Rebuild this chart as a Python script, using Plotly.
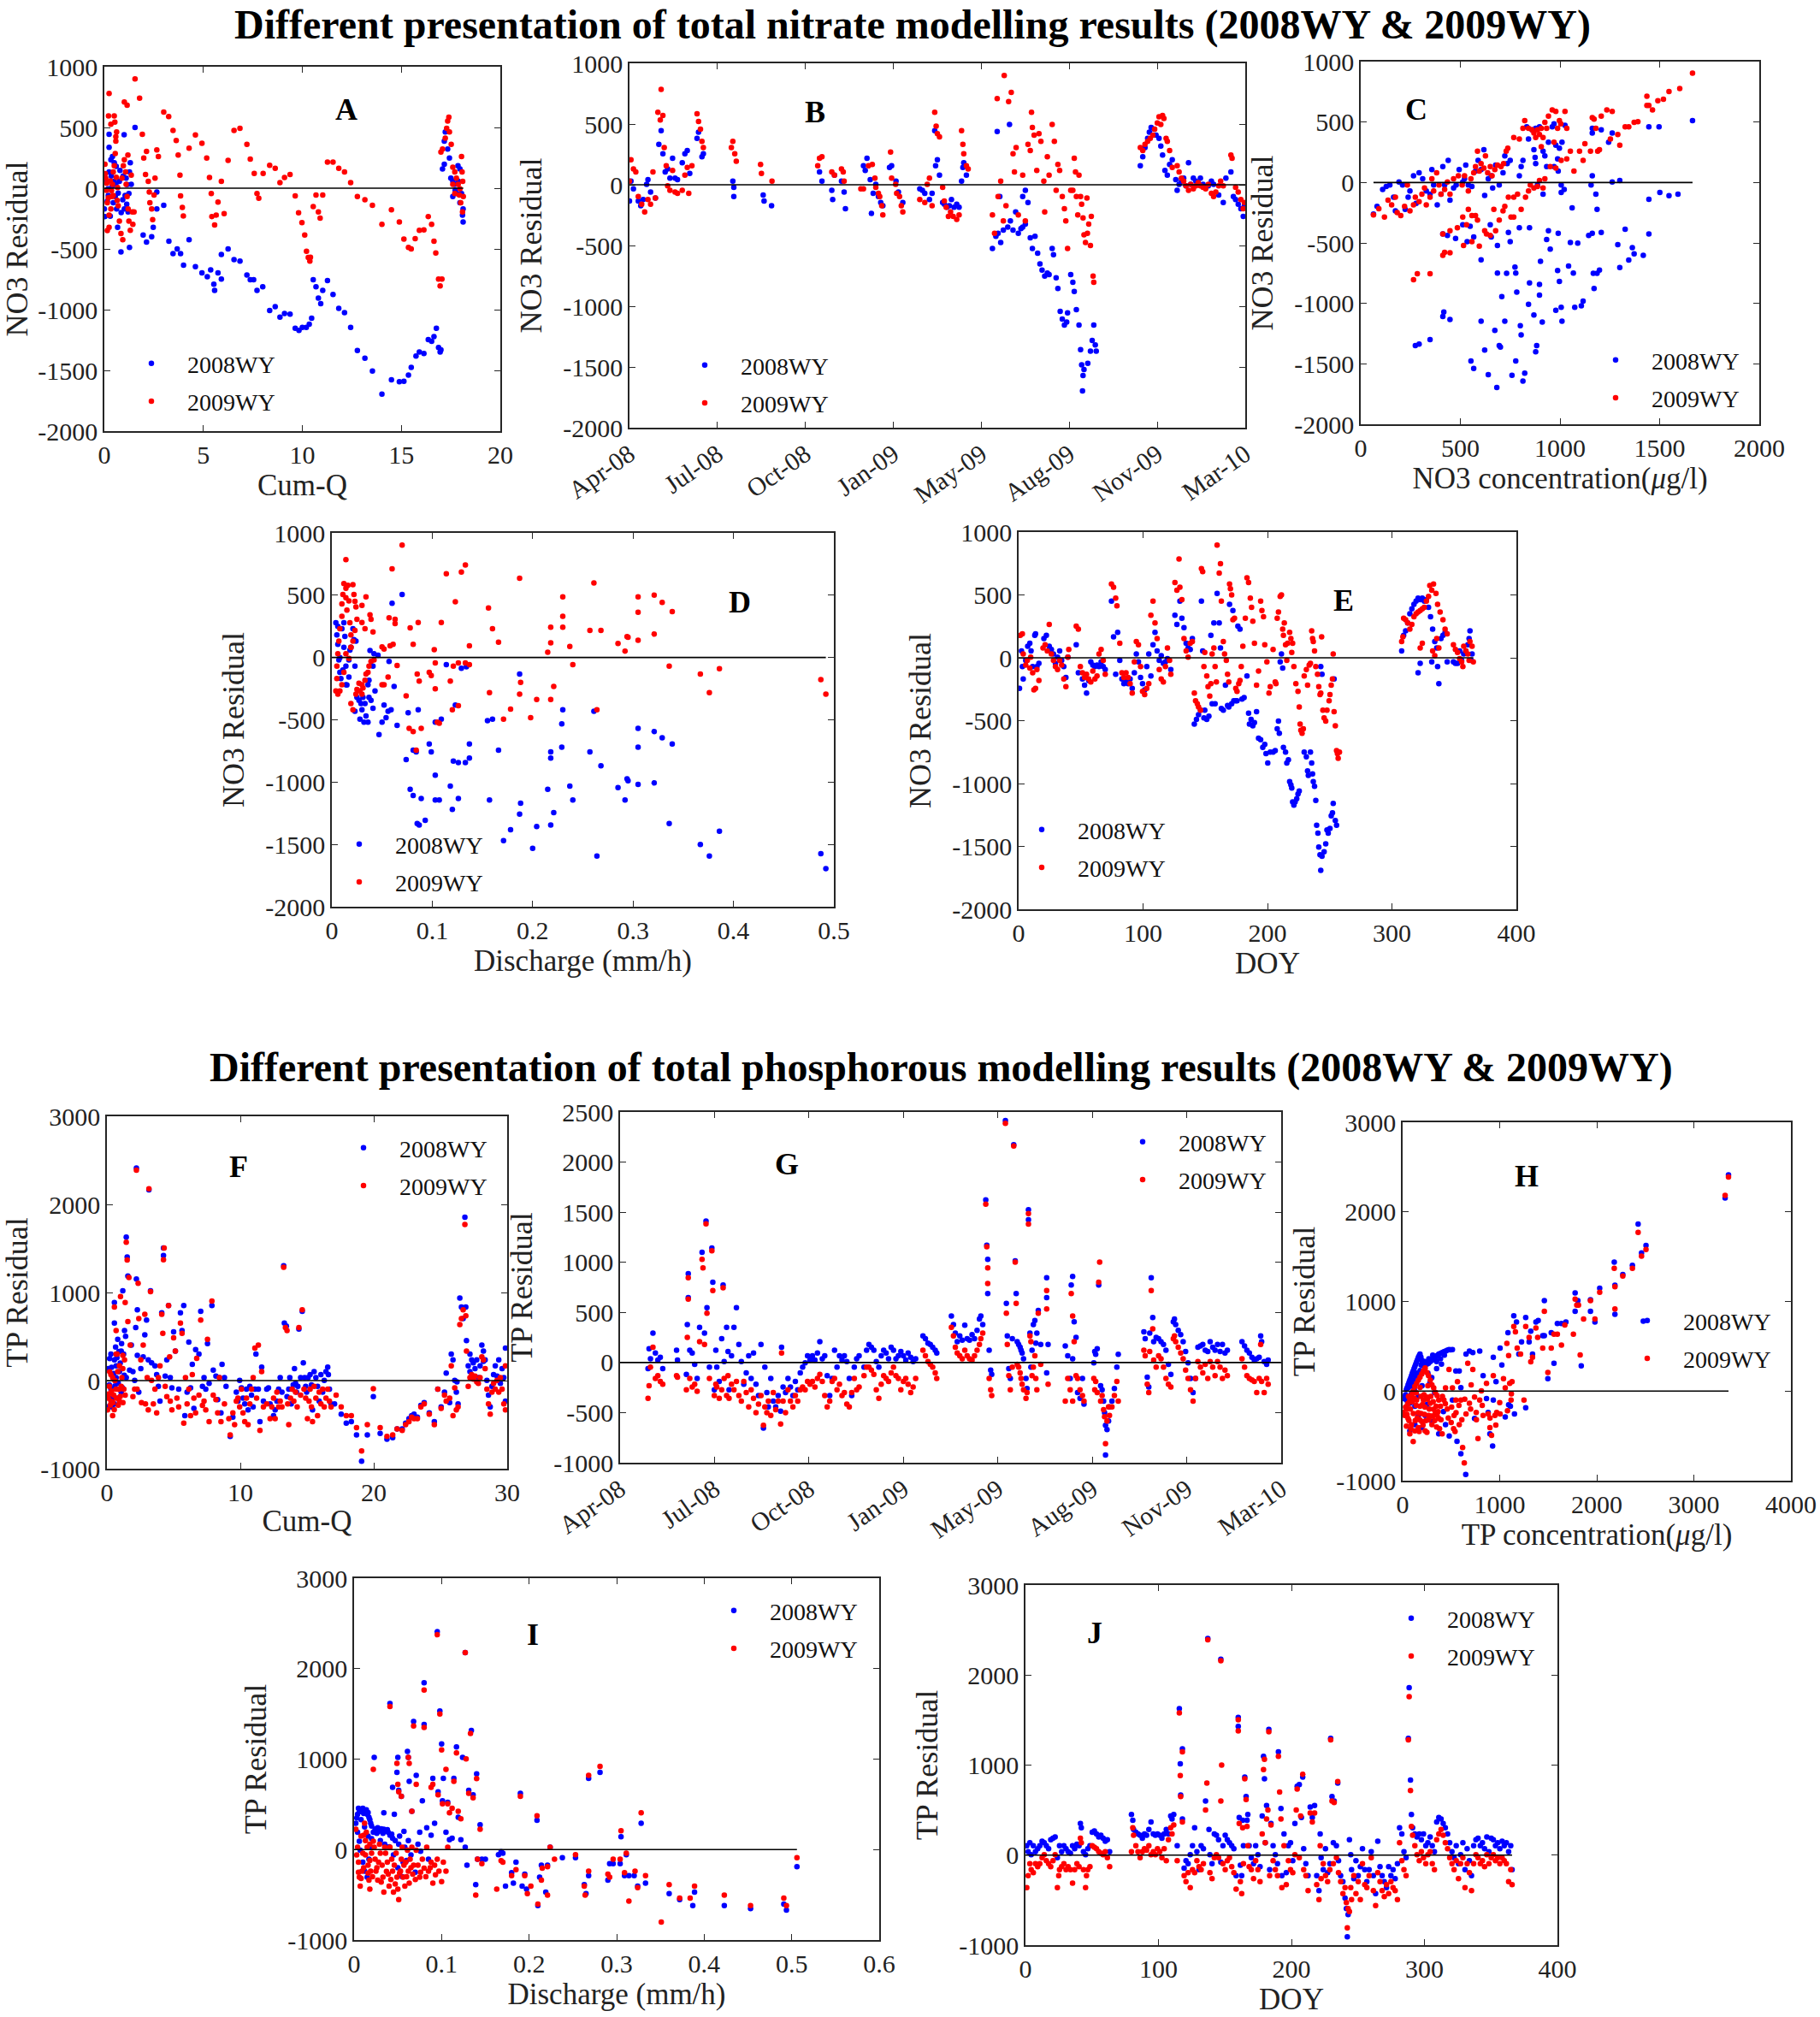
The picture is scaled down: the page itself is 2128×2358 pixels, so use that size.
import plotly.graph_objects as go
import pandas as pd

FONT = "Liberation Serif"
BLUE = "#0000FF"
RED = "#FF0000"
AXC = "#262626"

# ---------------- Tick labels ----------------
NO3_Y_TICKS = [-2000, -1500, -1000, -500, 0, 500, 1000]
TP_Y_TICKS = [-1000, 0, 1000, 2000, 3000]
TP_G_Y_TICKS = [-1000, -500, 0, 500, 1000, 1500, 2000, 2500]
CUMQ_A_TICKS = [0, 5, 10, 15, 20]
CUMQ_F_TICKS = [0, 10, 20, 30]
CONC_C_TICKS = [0, 500, 1000, 1500, 2000]
CONC_H_TICKS = [0, 1000, 2000, 3000, 4000]
Q_D_TICKS = [0, 0.1, 0.2, 0.3, 0.4, 0.5]
Q_I_TICKS = [0, 0.1, 0.2, 0.3, 0.4, 0.5, 0.6]
DOY_TICKS = [0, 100, 200, 300, 400]
DATE_TICKS = ["2008-04-02", "2008-07-11", "2008-10-19", "2009-01-27",
              "2009-05-07", "2009-08-15", "2009-11-23", "2010-03-03"]
DATE_LABELS = ["Apr-08", "Jul-08", "Oct-08", "Jan-09", "May-09", "Aug-09", "Nov-09", "Mar-10"]
DATE_START = "2008-04-02"   # day 0 of the B/G day offsets

# ---------------- Panel A: NO3 residual vs Cum-Q ----------------
A_2008 = [(0,-170),(0.03,-234),(0.15,-107),(0.24,133),(0.33,235),(0.41,260),(0.5,210),(0.5,57),(0.55,-69),(0.62,-170),
 (0.76,57),(0.79,146),(0.93,-95),(1.01,-170),(1.13,-132),(1.24,-44),(1.27,133),(1.31,210),(0.24,336),(0.19,-6),(0.58,32),
 (0.67,-322),(1.1,83),(1.2,-196),(1.36,32),(0.24,443),(1.0,440),(1.55,500),(0.1,50),(0.2,-60),(0.35,100),(0.45,-120),
 (0.6,180),(0.7,-40),(0.85,-200),(0.95,100),(1.05,-60),(1.15,30),(0.3,-230),(0.4,20),
 (0.84,-525),(1.27,-487),(1.96,-386),(2.13,-444),(2.39,-400),(2.47,-322),(2.65,-170),(2.65,-31),(3.0,-140),(3.26,-436),
 (3.47,-538),(3.68,-500),(3.85,-538),(4.0,-634),(4.28,-424),(4.6,-647),(4.93,-697),(5.2,-728),(5.37,-672),(5.53,-791),
 (5.57,-842),(5.74,-697),(5.91,-748),(5.91,-545),(6.25,-500),(6.55,-588),(6.85,-601),(7.2,-715),(7.37,-753),(7.54,-753),
 (7.71,-842),(8.0,-811),(8.35,-1007),(8.63,-976),(8.87,-1062),(9.1,-1032),(9.38,-1037),(9.64,-1154),(9.83,-1171),
 (10.0,-1146),(10.2,-1146),(10.35,-1120),(10.47,-1070),(10.55,-753),(10.69,-811),(10.81,-905),(10.93,-951),(11.03,-842),
 (11.27,-761),(11.55,-875),(11.84,-989),(12.13,-1024),(12.44,-1146),(12.78,-1336),(13.16,-1399),(13.54,-1506),
 (14.02,-1696),(14.5,-1577),(14.9,-1594),(15.13,-1589),(15.36,-1539),(15.5,-1475),(15.74,-1382),(15.91,-1349),
 (16.14,-1361),(16.36,-1247),(16.53,-1260),(16.65,-1222),(16.77,-1154),(16.88,-1311),(17.0,-1331),(16.96,-1349),
 (17.08,159),(17.17,197),(17.17,387),(17.22,463),(17.34,323),(17.43,248),(17.5,83),(17.6,58),(17.7,32),(17.6,-69),
 (17.8,-44),(17.86,184),(17.96,159),(17.87,58),(18.04,-44),(18.12,-170),(18.12,-279),(18.09,-221),(17.96,-120),(17.72,-18)]
A_2009 = [(0.24,780),(0.21,595),(0.5,595),(0.53,544),(0.33,526),(0.58,425),(1.01,709),(1.15,683),(1.55,899),(1.78,742),
 (1.92,443),(1.99,248),(2.13,303),(2.08,113),(2.22,57),(2.27,-31),(2.3,-120),(2.39,-170),(2.44,-259),(2.51,-57),(2.56,83),
 (2.65,316),(2.73,260),(3.0,627),(3.25,589),(3.47,476),(3.63,392),(3.73,273),(3.82,108),(3.85,-64),(3.94,-158),(3.99,-229),
 (4.28,329),(4.6,438),(4.93,369),(5.17,248),(5.31,88),(5.4,-44),(5.43,-234),(5.57,-302),(5.65,-221),(5.74,-115),(5.91,57),
 (6.05,-209),(6.25,228),(6.55,476),(6.85,493),(7.2,361),(7.37,240),(7.57,121),(7.71,-44),(7.8,-82),(8.02,121),(8.35,189),
 (8.63,164),(8.87,45),(9.1,88),(9.38,113),(9.64,-64),(9.81,-203),(9.98,-284),(10.12,-386),(10.21,-520),(10.3,-571),
 (10.38,-601),(10.41,-568),(10.55,-152),(10.69,-57),(10.81,-196),(10.9,-246),(11.03,-57),(11.27,215),(11.55,215),
 (11.84,164),(12.13,133),(12.44,45),(12.78,-69),(13.16,-95),(13.54,-140),(14.02,-297),(14.5,-178),(14.9,-279),
 (15.13,-419),(15.36,-487),(15.5,-500),(15.7,-416),(15.91,-347),(16.14,-343),(16.36,-234),(16.53,-297),(16.65,-437),
 (16.74,-533),(16.88,-748),(16.96,-804),(17.05,-748),
 (17.0,298),(17.08,323),(17.22,412),(17.29,493),(17.34,552),(17.4,585),(17.43,463),(17.52,361),(17.6,172),(17.7,133),
 (17.78,83),(17.87,32),(17.93,-57),(18.0,-120),(18.04,260),(18.07,133),(18.1,57),(18.13,-69),(18.09,-196),(17.96,-6),
 (17.7,-44),(17.6,32),
 (0.03,197),(0.07,83),(0.1,-18),(0.15,-120),(0.24,-221),(0.33,-170),(0.38,-69),(0.41,32),(0.45,133),(0.5,184),(0.55,286),
 (0.58,387),(0.62,463),(0.67,6),(0.7,-145),(0.76,-272),(0.84,-373),(0.93,-424),(0.89,83),(0.96,184),(1.01,235),(1.07,133),
 (1.1,32),(1.15,-69),(1.2,-170),(1.24,-272),(1.31,-347),(1.36,108),(1.41,-196),(1.5,-196),(1.44,-297),(1.19,273),
 (0.15,-348),(0.24,-322),(0.05,120),(0.12,40),(0.2,-80),(0.3,60),(0.36,-20),(0.45,-60),(0.6,90),(0.65,-100)]

# ---------------- Panel B: NO3 residual vs date (day offsets from DATE_START) ----------------
B_2008 = [(0,-134),(1.7,30),(4.5,-33),(10,-134),(12.8,-172),(15.6,-122),(19.5,4),(21,42),(24,-59),(29.5,-109),(33.4,332),
 (36,445),(38,256),(40.6,105),(43.4,130),(46,55),(49,218),(51.8,55),(54.6,42),(60,181),(63,256),(65.7,282),(68.5,93),
 (76.8,382),(78.5,433),(82.4,231),(84,256),
 (117.5,30),(118.6,-21),(118.6,-97),(152,-84),(153,-134),(161.5,-172),
 (216,105),(218.8,30),(230,-46),(231,-122),(233,80),(241,30),(244,-59),(245.5,-198),
 (266,156),(268,118),(270,218),(273.7,42),(275,-236),(277,-71),(280,4),(283,-97),(285.6,-147),(288,-172),(295.6,143),
 (298,156),(303,30),(305.7,-59),(310.7,-147),
 (330,-33),(333,-46),(335.7,-71),(341,-122),(344,-71),(347,445),(348,156),(350,206),(352.4,80),(356,-147),(358,-160),
 (360.8,-185),(363.6,-172),(366,-122),(369,-185),(372,-160),(374.7,-185),(377.5,30),(379,143),(380,181),(383,80),
 (412.6,-525),(416.5,-424),(419,-399),(422,-475),(425,-374),(430,-349),(433,-298),(432,496),(418,438),(421,-97),
 (436,-374),(439,-223),(442,-399),(445,-361),(447,-349),(450,-324),(453,-147),(455.6,-437),(458,-525),(461,-424),
 (464,-563),(466.6,-651),(469,-702),(472,-752),(475,-727),(477,-740),(480.5,-525),(482,-575),(485,-765),(487,-853),
 (489.6,-1042),(492,-1105),(494.4,-1155),(497,-1130),(498,-1054),(501.6,-740),(504,-803),(505.6,-878),(508,-1029),
 (511,-1155),(512.8,-1357),(514,-1483),(515.6,-1571),(516.7,-1521),(515,-1697),(521,-1470),(524,-1370),(526,-1281),
 (527.8,-1155),(529.5,-1319),(530.6,-1370),(447,-97),(450,-46),
 (580.7,156),(583.5,231),(586,307),(589,382),(591,433),(593,471),(596.5,458),(598.6,408),(602,382),(604,319),(606,244),
 (608.7,118),(611.4,80),(614,168),(617,206),(621,42),(622.6,-46),(624.8,4),(627.4,30),(630,55),(632.6,-8),(635.5,181),
 (638,4),(641,55),(643.8,30),(646.6,4),(649,55),(652,4),(655,-21),(658,-8),(661.5,30),(664,4),(669.8,-84),(675,-147),
 (678,55),(683.7,105),(686.5,-97),(689,-122),(692,-160),(695,-198),(697.7,-261),(699,-172)]
B_2009 = [(0,30),(1.7,206),(4.5,130),(7.2,105),(10,-97),(13.9,-160),(17.3,-223),(21,-122),(24,-160),(26.7,105),
 (29.5,-109),(32.3,597),(35,534),(36,786),(38,571),(39.5,307),(41.8,156),(43.4,-8),(46,-46),(49,118),(51.8,-59),
 (54.6,-71),(60,-46),(63,80),(65.7,143),(67.4,-71),(71,156),(76.8,584),(78.5,521),(80.7,458),(82.4,357),(84,307),
 (115.8,307),(117.5,357),(119.7,256),(121.4,193),(149,168),(150,93),(162,30),
 (214,156),(216,218),(218.8,231),(230,105),(233,80),(241,130),(243,105),(244,30),
 (263,-33),(266,-33),(271.7,156),(276,168),(279,55),(280,-21),(283,-71),(284.5,-97),(286.8,-172),(288,-248),(296.8,269),
 (298,55),(302.6,4),(303.7,-71),(307,-97),(309,-172),(310.7,-223),
 (330,-122),(335.7,-147),(338.5,4),(341,55),(344,-172),(347,597),(348.6,483),(350,420),(352.4,395),(356,-21),
 (357.9,-134),(360,-185),(362.5,-261),(365,-223),(368,-261),(372,-286),(374.7,-248),(377.5,445),(379,332),(380,256),
 (383,156),(385,130),
 (412.6,-248),(415,-399),(418,710),(419,-97),(422,30),(425,-298),(428,-172),(431,685),(434,760),(436,256),(437.6,105),
 (439.5,307),(442,-248),(447,80),(450,-298),(453,332),(455.6,282),(457,597),(458,471),(460,408),(463,118),(465.5,420),
 (467.7,357),(471,30),(472,-223),(475,231),(477,80),(480.5,496),(483,357),(485,-46),(487,168),(489,118),(492,-97),
 (494.4,-198),(496,-298),(498,-525),(501.6,-46),(504,-46),(505.6,218),(507,105),(508,-97),(509.6,-248),(511,80),
 (512.8,-97),(514,-160),(515.6,-273),(516.7,-412),(518.4,-475),(520.6,-399),(522,-324),(524,-500),(527,-752),
 (527.8,-803),(520,-109),(525,-261),(426,900),
 (580.7,307),(583.5,282),(586,332),(589,357),(592,382),(595,408),(597,458),(600,508),(602,559),(604,496),(606,571),
 (607.5,546),(610,382),(611.4,357),(614,282),(617,143),(622.6,156),(624.8,105),(627.4,55),(630,30),(632.6,-8),
 (635.5,-46),(638,4),(641,-33),(643.8,-8),(646.6,17),(649,-8),(652,-21),(655,-33),(658,4),(661.5,-71),(664,-97),
 (666.5,-59),(669.8,-8),(672,30),(675,-8),(683.7,244),(685,218),(689,-21),(692,-59),(695,-122),(697.7,-198),(699,-147)]

# ---------------- Panel C: NO3 residual vs NO3 concentration ----------------
C_2008 = [(64,-261),(82,-197),(110,-58),(128,-33),(146,-20),(165,-121),(174,-235),(192,5),(210,-20),(223,-223),(238,-121),
 (247,-71),(265,56),(278,-172),(293,81),(311,30),(329,-71),(348,-96),(357,106),(366,-20),(384,-185),(403,-96),(412,132),
 (421,-20),(439,182),(448,-147),(466,-45),(479,-20),(494,106),(512,5),(521,30),(527,144),(540,-20),(558,-33),(576,94),
 (589,182),(604,106),(618,271),(622,-108),(640,30),(655,56),(662,-45),(677,144),(695,-20),(714,81),(723,220),(735,157),
 (750,182),
 (412,-425),(417,-1071),(412,-1109),(448,-1134),(274,-1349),(293,-1337),(348,-1299),(435,-438),(476,-463),(512,-349),
 (534,-489),(549,-362),(567,-451),(604,-640),(604,-1147),(622,-1387),(640,-1590),(553,-1476),(567,-1539),(650,-349),
 (655,-451),(673,-1223),(686,-522),(686,-750),(695,-1349),(701,-1362),(683,-1696),(708,-944),(723,-1147),(732,-752),
 (741,-413),(750,-489),(759,-1595),(774,-699),(778,-750),(778,-1476),(783,-907),(796,-374),(801,-1185),(805,-1261),
 (814,-1643),(823,-1577),(842,-1008),(847,-830),(847,-375),(869,-1096),(878,-1400),(883,-1349),(897,-843),(902,-653),
 (897,-932),(911,-1155),(933,-471),(942,-400),(951,-552),(979,-1058),(988,-729),(991,-420),(997,-818),(1006,-1033),
 (1010,-1147),(1043,-691),(1052,-496),(1067,-750),(1074,-1033),(1089,-501),(1107,-1020),(1116,-982),(1144,-438),
 (1162,-420),(1167,-752),(1171,-876),(1186,-752),(1198,-724),(1207,-413),(1290,-514),(1300,-704),(1327,-387),
 (1345,-641),(1363,-539),(1372,-590),(1418,-603),(1446,-425),(1446,-139),
 (961,461),(970,486),(979,309),(988,195),(997,284),(1010,334),(1025,473),(897,461),(878,448),(860,435),(833,461),
 (842,360),(869,271),(875,208),(878,157),(915,258),(924,220),(942,334),(970,132),(991,94),(1006,-20),(1006,-83),
 (1021,-58),(1061,-210),(1162,448),(1162,410),(1207,436),(1262,410),(1244,334),(1162,56),(1156,-20),(1180,-96),
 (1186,-223),(1262,5),(1300,17),(1501,-83),(1547,-109),(1592,-96),(1446,461),(1497,461),(1665,512),(887,-20),
 (915,-96),(933,132),(814,182),(805,132),(796,56)]
C_2009 = [(64,-268),(91,-217),(119,-286),(137,-147),(155,-185),(174,-121),(183,-248),(201,-273),(220,-197),(234,-20),
 (247,-235),(265,-185),(274,-121),(293,-159),(307,-96),(320,-46),(329,-185),(348,-121),(357,30),(366,-71),(381,81),
 (393,-20),(403,-96),(421,-58),(435,5),(448,-96),(466,30),(490,56),(509,-20),(521,56),(540,-71),(553,30),(567,81),
 (576,132),(586,258),(595,94),(604,157),(618,119),(626,220),(637,81),(650,132),(659,56),(673,106),(686,144),(704,132),
 (717,157),
 (265,-805),(284,-754),(348,-754),(412,-603),(412,-425),(421,-577),(448,-582),(448,-400),(485,-375),(512,-286),
 (516,-522),(531,-349),(540,-223),(558,-273),(558,-489),(576,-273),(586,-311),(595,-527),(622,-400),(631,-425),
 (650,-438),(668,-223),(677,-400),(695,-311),(714,-235),(723,-197),(741,-121),(754,-286),(768,-121),(787,-96),
 (805,-223),(827,-121),(842,-71),(851,-20),(869,-46),(887,-33),(915,-46),(924,30),(897,17),(768,-286),(730,258),
 (738,284),(768,372),(796,360),
 (814,448),(823,511),(842,448),(860,435),(869,410),(878,372),(887,435),(897,397),(906,448),(915,372),(924,498),
 (942,549),(961,600),(979,587),(997,511),(1004,486),(1025,587),(1034,448),(988,448),(933,448),(906,296),(970,334),
 (951,132),(979,119),(1006,182),(1034,195),(1052,258),(1070,94),(1098,258),(1116,182),(1125,321),(1153,258),
 (1162,537),(1171,524),(1180,448),(1189,258),(1198,271),(1207,549),(1235,600),(1262,587),(1253,360),(1290,397),
 (1300,309),(1327,461),(1345,461),(1372,498),(1391,503),(1436,714),(1446,638),(1464,600),(1491,676),(1519,689),
 (1547,752),(1601,778),(1665,904),(1436,638)]

# ---------------- Panel D: NO3 residual vs discharge ----------------
D_2008 = [(0.004,280),(0.005,181),(0.006,106),(0.007,-19),(0.008,-119),(0.009,-169),(0.010,231),(0.012,280),(0.012,81),
 (0.014,-69),(0.014,-219),(0.017,-157),(0.017,-19),(0.019,81),(0.021,231),(0.022,143),(0.024,131),(0.023,-69),
 (0.025,-319),(0.027,-344),(0.029,-369),(0.031,-319),(0.033,-369),(0.030,-419),(0.032,-519),(0.034,-469),(0.036,-519),
 (0.037,-182),(0.038,56),(0.041,-69),(0.042,31),(0.023,-432),(0.028,-494),(0.036,-219),(0.037,-319),(0.039,-344),
 (0.041,-407),(0.043,-269),(0.046,19),(0.047,-619),(0.050,-519),(0.052,-382),(0.054,-482),(0.056,-432),(0.057,-32),
 (0.059,-419),(0.060,436),(0.062,-232),(0.065,-544),(0.070,505),(0.074,-819),(0.076,-444),(0.078,-1057),(0.081,-1107),
 (0.081,-744),(0.084,-757),(0.085,-1332),(0.087,-1344),(0.089,-1132),(0.086,-419),(0.093,-1307),(0.097,-694),
 (0.099,-757),(0.103,-519),(0.103,-944),(0.103,-1144),(0.107,-1144),(0.109,-494),(0.114,-57),(0.118,-1032),
 (0.120,-1219),(0.121,-832),(0.123,-382),(0.126,-844),(0.126,-1132),(0.129,-87),(0.133,-844),(0.134,-74),(0.137,-807),
 (0.137,-694),(0.155,-507),(0.157,-1144),(0.160,-494),(0.166,-744),(0.171,-1469),(0.178,-1382),(0.187,-132),
 (0.187,-1257),(0.188,-1169),(0.200,-1532),(0.204,-1357),(0.215,-1057),(0.218,-757),(0.218,-807),(0.218,-1344),
 (0.221,-1244),(0.229,-532),(0.230,-419),(0.229,-719),(0.237,-1032),(0.240,-1144),(0.257,-757),(0.261,-432),
 (0.264,-1594),(0.268,-869),(0.285,-1044),(0.292,-1144),(0.294,-974),(0.295,-989),(0.305,-569),(0.305,-719),
 (0.305,-1019),(0.321,-594),(0.321,-1007),(0.329,-644),(0.336,-1332),(0.339,-694),(0.367,-1500),(0.376,-1594),
 (0.386,-1394),(0.487,-1575),(0.492,-1694),(0.006,250),(0.008,0),(0.011,-100),(0.013,170),(0.015,-220),(0.018,60)]
D_2009 = [(0.004,-269),(0.005,-169),(0.005,-69),(0.006,31),(0.007,131),(0.008,231),(0.010,331),(0.010,431),(0.011,505),
 (0.012,593),(0.014,555),(0.014,480),(0.015,380),(0.016,580),(0.017,455),(0.018,280),(0.019,181),(0.019,81),(0.014,785),
 (0.014,31),(0.012,-119),(0.010,-219),(0.008,-269),(0.006,-294),(0.021,585),(0.022,505),(0.023,451),(0.024,406),
 (0.025,306),(0.023,218),(0.021,131),(0.019,81),(0.017,-7),(0.019,-369),(0.021,-419),(0.024,-294),(0.025,-257),
 (0.027,-207),(0.028,-269),(0.030,-294),(0.031,-244),(0.033,-182),(0.034,-132),(0.036,-119),(0.037,-69),(0.039,-32),
 (0.030,-219),(0.033,231),(0.034,486),(0.030,281),(0.038,343),(0.039,306),(0.041,206),(0.042,-19),(0.030,418),
 (0.050,-219),(0.050,86),(0.052,68),(0.052,-219),(0.057,318),(0.056,-157),(0.058,93),(0.060,711),(0.061,106),
 (0.063,306),(0.063,273),(0.065,-64),(0.070,903),(0.074,-307),(0.077,-569),(0.078,238),(0.081,-594),(0.081,106),
 (0.084,-744),(0.085,-132),(0.086,281),(0.087,-189),(0.089,-569),(0.097,-119),(0.099,-144),(0.102,63),(0.103,-252),
 (0.103,-44),(0.105,-519),(0.107,-527),(0.109,281),(0.114,673),(0.118,-189),(0.120,-419),(0.121,-69),(0.123,448),
 (0.126,-387),(0.126,-44),(0.129,686),(0.133,743),(0.133,-44),(0.137,93),(0.137,-57),(0.156,398),(0.157,-282),
 (0.160,231),(0.166,123),(0.171,-494),(0.178,-414),(0.187,636),(0.187,-294),(0.188,-199),(0.198,-482),(0.204,-337),
 (0.215,43),(0.218,243),(0.218,118),(0.221,-232),(0.218,-337),(0.230,486),(0.230,331),(0.230,243),(0.237,88),
 (0.240,-57),(0.257,218),(0.261,598),(0.264,-419),(0.268,218),(0.285,113),(0.292,51),(0.294,168),(0.295,163),
 (0.305,486),(0.305,363),(0.305,138),(0.321,501),(0.321,188),(0.329,443),(0.336,-69),(0.339,368),(0.367,-132),
 (0.376,-282),(0.386,-89),(0.487,-177),(0.492,-294)]

# ---------------- Panel E: NO3 residual vs DOY ----------------
E_2008 = [(0.7,-243),(2.3,54),(3,-69),(3.7,-168),(5.7,-20),(7.3,92),(9,116),(10,54),(11.3,-69),(13,178),(13.6,191),
 (14.7,-69),(16.3,-45),(20.3,153),(22.3,178),(24.6,92),(26.3,67),(28,30),(29.6,-45),(31.3,5),(33,54),(34.6,-20),
 (36.3,-69),(38,-156),(39.6,5),
 (46.3,104),(48,-119),(51.3,-168),(53,-218),(54.6,-280),(56.3,-181),(58,-32),(59.6,-57),(61.3,-69),(63,-57),(64.6,-69),
 (66.3,-32),(68,-69),(69.6,-94),
 (74.6,450),(76.3,166),(78,-131),(79.6,203),(81.3,-20),(83,-168),(84.6,-206),(86.3,-181),(88,-206),(89.6,-168),
 (91.3,-243),(93,-119),(94.6,30),(96.3,-32),(98,-156),(99.6,-206),(101.3,-255),(103,-69),(104.6,30),(106.3,-144),
 (108,104),(109.6,203),(111.3,54),(113,-20),(114.6,17),(116.3,-45),(118,-32),(119.6,-7),(122.3,-94),
 (125.6,339),(127.2,265),(129.6,450),(131.2,314),(132.9,240),(134.6,116),(136.2,79),(137.9,67),(139.6,153),
 (141.2,-527),(142.9,-490),(144.6,-453),(146.2,-416),(146.9,450),(147.9,54),(148.9,-478),(149.6,-416),(151.2,-490),
 (152.9,-465),(154.5,178),(155.5,-366),(156.9,277),(157.9,-366),(159.5,512),(161.2,277),(162.2,79),(162.9,-403),
 (164.5,-416),(166.2,-218),(167.9,-379),(168.9,-391),(169.5,426),(171.2,-366),(172.2,376),(172.9,-342),(174.5,-342),
 (175.5,-342),(176.2,252),(177.9,228),(179.5,-329),
 (181.2,-317),(183.5,-144),(184.8,-441),(185.5,-527),(186.8,-490),(188.2,-540),(189.5,-515),(191.2,-428),(192.8,-639),
 (194.5,-651),(196.2,-713),(197.8,-688),(198.8,-762),(200.2,-837),(202.2,-750),(204.5,-750),(206.2,-738),(207.8,-564),
 (208.8,-503),(209.5,-601),(210.2,-32),(211.2,30),(212.2,-82),(212.8,-713),(214.5,-750),(215.5,-837),(216.8,-812),
 (217.8,-985),(218.8,-1010),(219.5,-1035),(220.2,-1146),(221.2,-1171),(222.2,-1146),(223.5,-1121),(224.5,-1084),
 (225.5,-1060),(229.5,-750),(231.2,-787),(232.2,-899),(232.8,-936),(234.5,-750),(235.5,-837),(236.2,-923),(236.8,-985),
 (237.8,-1022),(238.8,-1134),(239.5,-1332),(240.5,-1394),(241.2,-1505),(242.2,-1567),(242.8,-1691),(243.8,-1579),
 (245.5,-1542),(246.8,-1480),(247.8,-1369),(248.8,-1394),(250.2,-1357),(251.2,-1257),(252.2,-1233),(252.8,-1158),
 (254.5,-1295),(255.5,-1332),(253.5,-168),(242.8,-69),(243.8,-131),
 (307.8,54),(309.4,178),(311,215),(312.7,277),(314.4,351),(316,389),(317.7,426),(319.4,450),(321,475),(322.7,463),
 (324.4,475),(326,450),(327.7,463),(329.4,401),(331,327),(332.7,228),(334.4,129),(336,79),(336.7,-69),(337.7,-206),
 (322.7,-45),(321,-119),(332,-32),(339.4,153),(341,178),(342.7,203),(344.4,-32),(349.4,-32),(351,-45),(352.7,-45),
 (354.4,54),(356,-20),(357.7,30),(359.4,54),(361,104),(362,153),(362.7,215),(363.7,-20),(364.4,30)]
E_2009 = [(1.3,178),(3,191),(3.7,30),(5.7,-57),(7,-20),(9,-82),(9.7,5),(11.3,-119),(12.3,-255),(13.6,-243),(14.7,-94),
 (16.3,-181),(19.6,79),(21.3,104),(23,54),(24.6,265),(26.3,30),(28,-20),(29.6,-69),(31.3,-94),(33,-20),(34.6,-57),
 (36.3,-168),(38,-230),(39.6,5),(40.3,67),
 (46.3,252),(48,228),(49.6,-69),(51.3,-119),(53,-156),(54.6,-131),(56.3,-168),(58,-193),(59.6,-106),(61.3,-168),
 (63,-144),(64.6,30),(66.3,67),(68,-20),(69.6,-131),
 (74.6,587),(76.3,562),(78,475),(79,413),(81.3,116),(83,-119),(84.6,-156),(86.3,-119),(88,-156),(89.6,-206),(91.3,-280),
 (93,-32),(94.6,129),(96.3,104),(98,-69),(99.6,-267),(101.3,-292),(103,-243),(104.6,-206),(106.3,339),(108,450),
 (109.6,277),(111.3,153),(113,-94),(114.6,-168),(116.3,-193),(118,-69),(119.6,79),(121.3,-20),(122.3,-131),
 (125.6,599),(127.2,537),(128.9,785),(129.6,562),(131.2,463),(132.9,153),(134.6,54),(136.2,5),(137.9,116),(139.6,129),
 (141.2,-280),(142.2,-342),(143.6,-366),(144.6,-391),(146.2,-416),(146.9,710),(147.9,686),(148.9,-69),(149.6,42),
 (151.2,-144),(152.2,-230),(153.6,-305),(154.5,-206),(155.5,30),(156.9,79),(157.9,-69),(158.9,-193),(159.5,896),
 (161.2,673),(162.2,748),(162.9,450),(164.5,129),(165.5,30),(166.9,-20),(167.9,-131),(168.9,-193),(169.5,587),
 (170.2,550),(171.2,500),(172.2,302),(173.5,314),(174.5,-243),(175.5,-267),(176.9,-206),(177.9,-181),(178.9,-69),
 (180.2,92),(182.2,314),(183.5,636),(184.8,599),(186.2,475),(187.2,401),(188.2,290),(189.5,116),
 (191.2,-218),(192.8,-106),(194.5,450),(195.5,376),(196.8,327),(197.8,104),(199.5,-32),(201.2,-280),(202.2,-230),
 (204.5,67),(206.2,-193),(206.8,-206),(207.8,314),(208.8,364),(210.2,488),(211.2,500),(212.2,228),(212.8,178),
 (213.5,277),(214.5,104),(215.5,-20),(216.2,116),(217.8,203),(218.8,153),(219.5,42),(220.2,116),(221.2,-69),
 (222.8,-206),(224.5,-267),(225.5,-391),(226.2,-527),(226.8,-577),(227.8,-601),(228.8,-564),(229.5,-144),(231.2,-94),
 (232.2,-218),(233.5,-57),(234.5,-45),(235.5,215),(236.2,153),(236.8,129),(237.8,54),(238.8,-69),(240.2,-131),
 (241.2,-230),(242.2,-292),(242.8,-280),(243.5,166),(244.5,-416),(245.5,-478),(246.8,-503),(247.8,-416),(249.5,-342),
 (250.2,-292),(251.2,-218),(252.2,-168),(252.8,30),(253.5,-428),(254.5,-540),(255.5,-738),(256.2,-762),(256.8,-800),
 (257.8,-750),
 (307.8,129),(308.8,166),(309.4,314),(311,302),(312.7,277),(314.4,228),(316,265),(317.7,327),(319.4,351),(321,364),
 (322.7,376),(324.4,389),(326,401),(327.7,450),(329.4,488),(330.4,574),(332,537),(333.4,587),(335.4,512),(336.7,426),
 (338.7,364),(341,302),(342.7,228),(322.7,79),(324.4,116),(332.7,54),(334.4,17),(336,153),(337.7,79),(344.4,191),
 (349.4,104),(351,67),(352.7,42),(354.4,-7),(356,-32),(357,-69),(357.7,92),(359.4,54),(361,30),(362,-20),(362.7,129),
 (364.4,92),(365.4,-32)]

# ---------------- Panel F: TP residual vs Cum-Q ----------------
F_2008 = [(1.45,1628),(1.52,1404),(1.57,1187),(0.56,886),(1.19,1020),(0.56,653),(0.81,469),(1.07,336),(1.32,569),
 (1.4,503),(0.3,302),(0.56,235),(0.69,168),(0.94,102),(1.45,35),(0.18,-48),(0.3,-98),(0.43,-199),(0.56,-265),(0.81,-199),
 (1.07,-132),(0.05,-299),(0.1,135),(0.69,35),(1.83,403),(1.7,118),(1.95,102),(2.08,2),(2.21,1154),(2.16,603),(2.28,286),
 (2.21,2412),(2.28,803),(2.39,-132),(2.54,135),(2.72,269),(2.84,520),(2.97,686),(3.1,235),(3.15,2165),(3.27,1020),
 (3.35,202),(3.6,168),(3.73,68),(3.86,-65),(3.98,-232),(4.11,769),(4.24,1505),(4.24,1421),(4.37,52),(4.49,235),
 (4.62,853),(4.75,35),(4.87,-82),(5.0,553),(5.13,336),(5.38,-98),(5.51,769),(5.63,569),(5.76,853),(5.84,-399),
 (6.01,-132),(6.14,436),(6.27,-82),(6.4,185),(6.52,-316),(6.65,352),(6.9,302),(7.03,786),(7.16,-65),(7.28,35),
 (7.41,-98),(7.54,419),(7.66,-32),(7.87,853),(7.97,118),(8.17,52),(8.3,-215),(8.43,35),(8.55,-366),(8.63,185),
 (8.81,35),(8.93,-65),(9.24,-633),(9.44,-416),(9.7,-132),(9.82,-232),(9.95,2),(10.08,-82),(10.2,-199),(10.33,-265),
 (10.46,-98),(10.58,-332),(10.71,-65),(10.84,-165),(10.96,-299),(11.09,-98),(11.17,302),(11.35,-98),(11.47,-466),
 (11.6,152),(11.73,-232),(11.98,-98),(12.11,-82),(12.23,-265),(12.49,-399),(12.61,-332),(12.74,-232),(12.87,-98),
 (12.99,35),(13.12,-132),(13.25,1304),(13.3,653),(13.45,620),(13.5,-182),(13.63,-98),(13.71,35),(13.81,-265),
 (13.88,-98),(13.96,-48),(14.06,135),(14.14,-32),(14.21,-132),(14.31,-65),(14.39,586),(14.52,35),(14.64,786),
 (14.72,202),(14.82,35),(14.9,-65),(14.97,-132),(15.08,35),(15.23,68),(15.33,-48),(15.41,-332),(15.53,102),(15.66,35),
 (15.79,-65),(15.91,-232),(16.04,68),(16.17,-132),(16.29,2),(16.42,102),(16.55,152),(16.6,68),(16.68,-98),(16.8,-265),
 (17.06,-265),(17.56,-382),(17.94,-483),(18.32,-466),(18.71,-616),(19.09,-916),(19.52,-616),(19.97,-182),(20.48,-599),
 (20.99,-666),(21.42,-649),(21.75,-549),(22.13,-549),(22.39,-483),(22.64,-433),(22.84,-399),(23.02,-382),(23.27,-416),
 (23.53,-282),(23.78,-249),(24.16,-366),(24.54,-466),(24.8,-98),(25.05,-299),(25.3,-132),(25.43,85),(25.69,-249),
 (25.81,302),(25.94,235),(26.07,2),(26.19,-132),(26.32,-265),(26.45,937),(26.57,836),(26.7,703),(26.83,1855),
 (26.9,836),(26.95,453),(27.08,168),(27.21,102),(27.34,235),(27.46,202),(27.59,135),(27.72,235),(27.84,35),(27.97,168),
 (28.1,403),(28.22,336),(28.35,235),(28.48,2),(28.6,-165),(28.73,-299),(28.86,-65),(28.98,68),(29.11,168),(29.24,52),
 (29.37,235),(29.49,-32),(29.62,135),(29.75,35),(29.87,369),(29.87,-232),(27.21,302),(26.24,-15),(28.22,218),
 (0.2,250),(0.35,150),(0.5,80),(0.65,380),(0.75,260),(0.9,330),(1.0,200),(1.1,420),(1.25,300),(0.4,-300),(0.6,-60),
 (0.85,-30),(1.15,-80),(1.3,60)]
F_2009 = [(0.05,-332),(0.1,-199),(0.18,-65),(0.3,68),(0.43,-399),(0.51,-165),(0.56,836),(0.69,-98),(0.76,302),
 (0.81,102),(0.94,-232),(1.02,953),(1.12,35),(1.19,286),(1.27,-98),(1.32,235),(1.37,886),(1.45,1571),(1.52,1370),
 (1.57,669),(1.65,1171),(1.75,403),(0.3,-232),(0.43,35),(0.69,302),(0.94,168),(1.07,-65),(1.37,-165),(0.69,569),
 (1.19,135),(1.95,-182),(2.08,-98),(2.21,2389),(2.26,-98),(2.34,1104),(2.39,703),(2.54,235),(2.59,-249),(2.72,403),
 (2.84,753),(2.89,-265),(3.02,35),(3.1,-332),(3.15,2178),(3.27,1010),(3.35,2),(3.48,-265),(3.6,-98),(3.73,-366),
 (3.86,35),(3.98,168),(4.11,753),(4.19,536),(4.24,1371),(4.29,1505),(4.37,-65),(4.49,-182),(4.62,853),(4.7,269),
 (4.75,-232),(4.87,-332),(5.0,486),(5.13,336),(5.25,-199),(5.38,-299),(5.51,653),(5.63,536),(5.76,-483),(5.89,35),
 (6.01,-265),(6.14,-98),(6.27,-399),(6.4,68),(6.52,-199),(6.65,-366),(6.73,252),(6.9,-165),(7.03,686),(7.16,-282),
 (7.28,-232),(7.41,-332),(7.54,469),(7.66,-466),(7.87,903),(7.97,-165),(8.17,-215),(8.3,-366),(8.43,35),(8.55,-466),
 (8.81,-265),(9.14,-432),(9.24,-616),(9.44,-366),(9.57,-499),(9.7,-232),(9.82,-199),(9.95,-299),(10.08,-98),(10.2,-366),
 (10.33,-466),(10.46,-199),(10.58,-499),(10.71,-265),(10.84,-98),(10.96,35),(11.09,369),(11.22,-199),(11.35,403),
 (11.47,-566),(11.6,102),(11.73,-299),(11.98,-265),(12.23,-432),(12.36,-299),(12.49,-199),(12.61,-432),(12.74,-132),
 (12.87,-299),(12.99,-232),(13.12,-299),(13.25,1287),(13.38,603),(13.5,569),(13.55,-265),(13.63,-499),(13.76,-199),
 (13.88,-98),(14.01,-232),(14.14,-132),(14.26,-299),(14.39,603),(14.52,-165),(14.64,803),(14.77,-98),(14.9,-199),
 (15.03,-432),(15.15,-232),(15.23,-98),(15.33,-299),(15.41,-466),(15.53,-65),(15.66,-199),(15.79,-399),(15.91,-132),
 (16.04,-265),(16.17,-98),(16.29,-299),(16.42,-199),(16.55,-98),(16.68,-232),(16.8,-299),(17.18,-165),(17.56,-299),
 (17.94,-399),(18.32,-399),(18.71,-533),(19.09,-799),(19.52,-499),(19.97,-92),(20.48,-533),(20.99,-633),(21.42,-616),
 (21.75,-549),(22.13,-566),(22.39,-499),(22.64,-466),(22.84,-416),(23.02,-432),(23.27,-432),(23.53,-299),(23.78,-265),
 (24.16,-382),(24.54,-499),(24.8,-98),(25.05,-316),(25.3,-165),(25.43,-232),(25.69,-199),(25.81,168),(25.94,-399),
 (26.07,-82),(26.19,-332),(26.32,-299),(26.45,636),(26.57,703),(26.7,803),(26.83,1772),(26.9,736),(26.95,336),
 (27.08,-65),(27.21,35),(27.34,68),(27.46,18),(27.59,52),(27.72,-15),(27.84,-32),(27.97,35),(28.1,269),(28.22,235),
 (28.35,135),(28.48,-98),(28.6,-265),(28.73,-382),(28.86,-132),(28.98,-32),(29.11,-98),(29.24,2),(29.37,-132),
 (29.49,35),(29.62,-98),(29.75,-265),(29.87,-332),(29.87,168),
 (0.15,-150),(0.25,-280),(0.35,-120),(0.45,-250),(0.55,-330),(0.7,-200),(0.85,-280),(1.0,-180),(1.2,-250),(0.2,100),
 (0.6,0),(0.9,-100)]

# ---------------- Panel G: TP residual vs date (day offsets from DATE_START) ----------------
G_2008 = [(29.6,-61),(30.7,137),(32.2,38),(34.8,293),(37.4,95),(40,24),(42.6,52),(45.2,-61),(59.8,123),(60.8,24),
 (70.2,-118),(71.2,378),(72.2,887),(72.2,647),(73.8,123),(76.4,95),(79,-18),(81.6,-160),(84.2,350),(86.8,1099),
 (89.4,293),(91,1411),(92,548),(94.6,-47),(97.2,1142),(98.2,802),(99.8,-273),(101.4,123),(102.4,-47),(105,-189),
 (107.6,237),(109.1,774),(110.2,10),(112.8,350),(114.3,109),(115.4,-273),(118,67),(120.6,350),(123.2,548),(125.8,180),
 (128.4,10),(131,-216),(133.6,-103),(136.2,67),(138.8,-160),(141.3,95),(143.9,-216),(146.6,-330),(149.2,180),
 (151.8,-655),(153.3,-47),(155.4,-301),(157,-443),(159.6,-160),(162.2,-386),(164.8,-443),(167.4,-330),(170,-485),
 (171,152),(172.6,-245),(175.2,-301),(177.8,-160),(180.4,-245),(183,-330),(185.6,-189),(188.1,-273),(190.8,-103),
 (193.3,-47),(196,-4),(198.5,67),(201.1,24),(203.7,67),(206.3,24),(209,95),(211.5,208),(214.1,38),(216.7,67),
 (219.3,-132),(222,-330),(224.5,-160),(227.1,123),(229.7,-47),(232.3,67),(235,24),(237.5,67),(240.1,10),(242.7,-160),
 (245.3,-330),(248,-47),(250.5,38),(253.1,67),(258.3,-47),(261,123),(263.5,180),(266.1,152),(268.7,123),(271.3,10),
 (274,-47),(276.5,67),(279.1,123),(281.7,95),(284.3,38),(287,152),(289.5,123),(292.1,38),(294.7,67),(297.3,109),
 (300,67),(302.5,24),(305,95),(307.7,52),(310.3,10),(313,38),
 (320.7,265),(323.3,237),(326,194),(328.5,180),(331,152),(333.7,123),(335.3,95),
 (350.8,463),(353,378),(355,293),(357,208),(359.7,265),(362.3,222),(365,372),(367.5,237),(370,222),(372.7,279),
 (375.3,237),(378,322),(380.5,435),(382,463),(384,378),(387.2,1623),(388.3,1170),(389.3,1029),(389.3,689),(390.8,123),
 (392.4,-75),(393.5,-118),(408,2415),(409,590),(410,265),(411.6,-61),(413.2,-160),(415.3,237),(416.8,2174),(418.4,1015),
 (419.4,689),(420.5,208),(422,180),(423.6,152),(424.6,123),(425.7,95),(427.2,38),(429.8,-160),(430.9,-259),(432.4,1524),
 (432.4,1425),(434,293),(435,-47),(436.2,123),(437.6,378),(439.2,420),(440.2,194),(441.3,293),(442.8,520),(445.4,180),
 (451.7,845),(451.7,647),(453.2,180),(451.7,-103),(471.4,166),(474,67),(476.6,-160),(477.7,774),(479.2,859),(479.2,38),
 (480.8,406),(482.8,251),(484.4,-301),(487,-358),(489.6,-160),(491.2,-415),(501.6,-4),(502.6,109),(503.6,81),(505.2,137),
 (506.8,774),(508.8,-231),(510.4,-273),(512,-386),(513,-500),(514,-627),(515.6,-669),(517.2,-584),(518.2,-443),
 (520.8,-386),(523.4,-259),(526,-47),(527.5,81),(514,-924),
 (554.6,307),(556,237),(558.2,-146),(559.8,-245),(560.8,293),(562.4,845),(564,449),(565,208),(567.6,251),(570.2,237),
 (572.8,208),(575.4,180),(578,123),(580.6,-18),(583.2,-118),(585.8,406),(587,435),(588.3,378),(591,322),(593.6,279),
 (596.2,208),(598.8,109),(601.4,-4),(604,-160),(606.7,-301),(609.3,-160),(611.8,152),(614.5,166),(617,180),(619.6,123),
 (622.3,109),(624.8,208),(627.5,152),(630,123),(632.6,180),(635.3,109),(637.8,180),(640.5,95),(643,123),(658.5,208),
 (661.2,166),(663.7,123),(666.3,95),(669,52),(671.5,24),(674.1,38),(676.7,52),(678.3,265),(679.3,208),(682,10),
 (684.6,-18),(686.2,24)]
G_2009 = [(29.6,-358),(30.7,-231),(32.2,-47),(34.8,152),(37.4,-160),(40,-132),(42.6,-189),(45.2,-216),(59.8,-132),
 (60.8,-146),(70.2,-273),(71.2,251),(72.2,845),(72.2,633),(73.8,-160),(76.4,-245),(79,-216),(81.6,-287),(84.2,208),
 (86.8,1029),(87.8,944),(89.4,180),(91,1383),(92,492),(94.6,-160),(97.2,1114),(98.2,717),(99.8,-330),(101.4,-216),
 (102.4,-245),(105,-358),(107.6,-273),(109.1,746),(110.2,-160),(112.8,-330),(114.3,-132),(115.4,-358),(118,-216),
 (120.6,-273),(123.2,-189),(125.8,-330),(128.4,-386),(131,-189),(133.6,-301),(136.2,-443),(138.8,-273),(141.3,-358),
 (143.9,-500),(146.6,-415),(149.2,-330),(151.8,-627),(153.3,-443),(155.4,-500),(157,-386),(159.6,-528),(162.2,-301),
 (164.8,-471),(167.4,-386),(170,-613),(171,95),(172.6,-386),(175.2,-500),(177.8,-273),(180.4,-386),(183,-443),
 (185.6,-330),(188.1,-386),(190.8,-273),(193.3,-245),(196,-273),(198.5,-189),(201.1,-216),(203.7,-189),(206.3,-245),
 (209,-160),(211.5,-118),(214.1,-189),(216.7,-330),(219.3,-443),(222,-386),(224.5,-189),(227.1,-160),(229.7,-273),
 (232.3,-216),(235,-330),(237.5,-301),(240.1,-415),(242.7,-443),(245.3,-301),(248,-160),(250.5,-273),(253.1,-245),
 (258.3,-132),(261,-47),(263.5,-47),(266.1,-75),(268.7,-118),(271.3,-273),(274,-358),(276.5,-216),(279.1,-132),
 (281.7,-160),(284.3,-189),(287,-103),(289.5,-47),(292.1,-132),(294.7,-160),(297.3,-273),(300,-189),(302.5,-160),
 (305,-216),(307.7,-301),(310.3,-245),(313,-160),
 (320.7,123),(323.3,67),(326,10),(328.5,-18),(331,-47),(333.7,-103),(335.3,-160),
 (350.8,350),(353,265),(355,152),(357,95),(359.7,67),(362.3,38),(365,123),(367.5,67),(370,38),(372.7,24),(375.3,67),
 (378,123),(380.5,180),(382,237),(384,293),(387.2,1580),(388.3,1156),(389.3,944),(389.3,788),(390.8,-160),(392.4,-273),
 (393.5,-330),(408,2387),(409,491),(410,180),(411.6,-132),(413.2,-273),(415.3,-47),(416.8,2160),(418.4,1001),
 (419.4,590),(420.5,-18),(422,-47),(423.6,-103),(424.6,-160),(425.7,-216),(427.2,-273),(429.8,-358),(430.9,-301),
 (432.4,1487),(432.4,1382),(434,265),(435,208),(436.2,-132),(437.6,-47),(439.2,67),(440.2,-160),(441.3,-273),
 (442.8,491),(445.4,-18),(451.7,717),(451.7,534),(453.2,-216),(471.4,-386),(474,-160),(476.6,-273),(477.7,689),
 (479.2,463),(479.2,-386),(480.8,208),(482.8,-132),(484.4,-160),(487,-273),(489.6,-330),(491.2,-386),(501.6,-160),
 (502.6,-273),(503.6,-189),(505.2,-301),(506.8,802),(507.8,1001),(508.8,-386),(510.4,-330),(512,-471),(513,-542),
 (514,-811),(515.6,-584),(517.2,-443),(518.2,-528),(520.8,-443),(523.4,-330),(526,-189),(527.5,-386),
 (554.6,123),(556,67),(558.2,-216),(559.8,-301),(560.8,109),(562.4,717),(564,336),(565,24),(567.6,-47),(570.2,67),
 (572.8,38),(575.4,-47),(578,-160),(580.6,-216),(583.2,-245),(585.8,237),(587,265),(588.3,208),(591,152),(593.6,95),
 (596.2,38),(598.8,-75),(601.4,-160),(604,-273),(606.7,-386),(609.3,-160),(611.8,10),(614.5,-47),(617,-103),(619.6,-18),
 (622.3,-160),(624.8,10),(627.5,-47),(630,-132),(632.6,10),(635.3,-47),(637.8,-160),(640.5,-75),(643,-132),(658.5,38),
 (661.2,-47),(663.7,-132),(666.3,-160),(669,-174),(671.5,-189),(674.1,-301),(676.7,-160),(678.3,180),(679.3,-189),
 (682,-301),(684.6,-160),(686.2,-216)]

# ---------------- Panel H: TP residual vs TP concentration ----------------
H_2008 = [(4,-84),(21,-67),(39,19),(56,70),(74,121),(91,173),(109,224),(126,275),(144,327),(162,378),(179,412),(197,344),
 (232,310),(267,310),(302,344),(337,378),(372,412),(407,429),(442,446),(478,463),(513,463),(39,-101),(74,-135),
 (126,-169),(162,-272),(197,-409),(74,-443),(126,-375),(232,-272),(302,-340),(372,-477),(442,-375),(513,-101),(548,224),
 (583,224),(600,38),(653,412),(688,446),(723,429),(741,-306),(794,446),(829,173),(864,-84),(881,-238),(899,-477),
 (927,-614),(934,378),(934,-101),(962,104),(1004,480),(1022,292),(1057,-289),(1085,651),(1092,-152),(1110,-169),
 (1145,840),(1173,771),(1152,-255),(1197,412),(1225,549),(1268,822),(1268,-186),(1303,549),(1320,668),(1338,412),
 (1373,771),(1397,788),(1443,617),(1460,1010),(1460,617),(1496,138),(1531,651),(1559,310),(1594,754),(1636,754),
 (1682,771),(1777,1096),(1805,1010),(1777,891),(1840,282),(1935,1020),(1935,891),(1981,771),(2030,1147),(2180,1438),
 (2187,1181),(2187,856),(2268,1301),(2367,1404),(2426,1865),(2461,1541),(2507,1626),(2479,781),(3322,2156),(3357,2412),
 (60,40),(100,100),(140,160),(180,230),(220,280),(260,200),(300,150),(350,250),(400,300),(120,20),(200,60),(280,90),
 (330,-20),(250,-150),(160,-60),(90,-30),(420,-230),(480,-500),(560,-560),(650,-930),(600,-700),
 (30,-40),(48,40),(65,95),(83,145),(100,200),(118,250),(135,300),(153,350),(171,395),(188,380),(215,330),(250,300),
 (285,330),(320,360),(355,395),(390,420),(425,440),(460,455),(495,460),(80,60),(110,120),(150,200),(190,290),(230,330),
 (270,360),(310,400),(350,330),(390,360),(430,400)]
H_2009 = [(4,-238),(21,-272),(39,-203),(56,-135),(74,-101),(91,-50),(109,2),(126,53),(144,87),(162,121),(179,156),
 (197,190),(214,224),(232,258),(249,207),(267,173),(285,121),(302,70),(320,36),(337,-15),(355,-50),(372,-101),(56,-306),
 (91,-375),(126,-443),(162,-409),(197,-340),(232,-443),(267,-272),(302,-375),(337,-238),(372,-306),(407,-477),(74,-477),
 (109,-563),(39,-392),(144,-101),(179,-169),(214,-101),(249,-67),(285,-135),(320,-203),(355,-272),(390,-169),
 (425,-101),(442,36),(478,241),(513,36),(530,-272),(548,-101),(565,104),(583,-375),(600,-101),(618,-631),(635,-802),
 (653,-255),(671,310),(688,-135),(706,70),(723,241),(741,-67),(758,-238),(776,-529),(794,-101),(811,2),(829,-272),
 (864,87),(881,-255),(899,-409),(916,-494),(934,173),(951,-272),(969,-238),(1004,-255),(1039,138),(1057,36),(1074,532),
 (1092,395),(1103,87),(1117,-101),(1127,104),(1145,720),(1162,660),(1180,480),(1215,412),(1250,-101),(1268,720),
 (1303,600),(1320,326),(1338,378),(1373,703),(1391,600),(1443,480),(1460,891),(1496,207),(1531,480),(1559,634),
 (1594,634),(1636,514),(1671,737),(1759,634),(1777,1027),(1794,959),(1812,959),(1829,404),(1864,805),(1935,1010),
 (1981,805),(2030,1103),(2180,1370),(2187,1164),(2187,917),(2268,1284),(2367,1370),(2426,1772),(2461,1507),
 (2507,1581),(3322,2183),(3357,2388),
 (50,-150),(80,-200),(110,-250),(150,-300),(190,-250),(230,-180),(270,-320),(310,-280),(350,-400),(60,-60),(100,-120),
 (140,-20),(180,40),(220,-40),(260,60),(290,-60),(130,-330),(170,-450),(210,-380),(250,-460),(380,-420),(460,-200),
 (500,-350),(540,-450),
 (30,-180),(45,-260),(65,-330),(85,-420),(100,-30),(120,-80),(140,-160),(160,-240),(175,-320),(190,-60),(205,-150),
 (225,-260),(240,-330),(255,-90),(275,-200),(295,-280),(315,-120),(330,-330),(345,-170),(365,-230),(395,-320),
 (410,-60),(440,-140),(470,-300),(505,-180),(525,-420),(550,-240),(580,-160),(610,-320),(640,-90),(700,-200),
 (760,-320),(820,-160),(900,-300),(960,-380),(1000,-130),(1080,-220),(1120,-30)]

# ---------------- Panel I: TP residual vs discharge ----------------
I_2008 = [(0.002,290),(0.004,390),(0.005,456),(0.007,423),(0.010,456),(0.012,423),(0.015,390),(0.017,357),(0.019,290),
 (0.004,191),(0.006,92),(0.007,-8),(0.010,-140),(0.012,-239),(0.015,-305),(0.017,-107),(0.019,26),(0.022,191),
 (0.024,224),(0.027,241),(0.029,224),(0.032,208),(0.034,224),(0.036,208),(0.039,191),(0.041,158),(0.044,125),
 (0.023,1018),(0.034,406),(0.041,1614),(0.044,687),(0.046,390),(0.049,853),(0.050,1018),(0.051,654),(0.054,588),
 (0.051,59),(0.056,-140),(0.058,26),(0.061,1085),(0.062,1018),(0.063,753),(0.066,423),(0.068,1416),(0.071,820),
 (0.073,59),(0.075,191),(0.078,538),(0.080,1383),(0.080,1845),(0.083,241),(0.085,-107),(0.088,158),(0.090,787),
 (0.092,290),(0.095,2408),(0.096,638),(0.098,1531),(0.100,1167),(0.101,538),(0.102,787),(0.105,191),(0.107,522),
 (0.109,109),(0.112,125),(0.114,787),(0.117,1134),(0.119,357),(0.122,109),(0.124,1018),(0.127,2177),(0.127,26),
 (0.129,-173),(0.131,654),(0.134,1316),(0.136,605),(0.139,-388),(0.140,836),(0.141,-107),(0.144,274),(0.146,-107),
 (0.150,-107),(0.165,-57),(0.168,-24),(0.170,-41),(0.173,-405),(0.180,-256),(0.182,-371),(0.185,-140),(0.190,621),
 (0.192,-405),(0.195,-272),(0.197,-438),(0.209,324),(0.210,-619),(0.212,-305),(0.214,-173),(0.219,-471),(0.221,-173),
 (0.224,26),(0.238,-90),(0.253,-90),(0.263,-388),(0.265,-487),(0.268,-289),(0.268,787),(0.281,853),(0.290,-338),
 (0.292,-156),(0.296,-156),(0.304,-156),(0.305,142),(0.309,-289),(0.311,-57),(0.314,-289),(0.320,-289),(0.324,-405),
 (0.328,290),(0.333,-371),(0.360,-487),(0.372,-553),(0.387,-619),(0.389,-471),(0.423,-619),(0.453,-652),(0.491,-603),
 (0.494,-668),(0.506,-190),(0.008,330),(0.012,250),(0.016,150),(0.020,120),(0.026,180),(0.030,100),(0.035,60),
 (0.040,30),(0.045,-60),(0.050,-200),(0.055,-300),(0.060,-120),(0.065,-60),(0.070,-250),(0.076,-20),
 (0.003,350),(0.006,420),(0.009,440),(0.011,400),(0.014,440),(0.016,410),(0.018,330),(0.020,260),(0.025,230),
 (0.028,200),(0.031,230),(0.033,180),(0.038,220),(0.043,170),(0.047,100),(0.052,150),(0.057,200),(0.062,100)]
I_2009 = [(0.002,224),(0.004,26),(0.005,-140),(0.006,-305),(0.007,-405),(0.009,-239),(0.010,-41),(0.011,158),(0.012,290),
 (0.014,191),(0.015,26),(0.016,-173),(0.017,-338),(0.018,-438),(0.019,-239),(0.020,-41),(0.022,92),(0.023,26),
 (0.024,-107),(0.025,-239),(0.027,-338),(0.028,-140),(0.029,59),(0.030,-41),(0.032,-173),(0.033,-305),(0.034,-471),
 (0.035,26),(0.036,-41),(0.038,-140),(0.039,-272),(0.040,-405),(0.041,26),(0.043,-107),(0.044,-239),(0.045,-471),
 (0.046,-173),(0.048,-41),(0.049,-305),(0.050,-438),(0.051,-553),(0.053,-239),(0.054,-107),(0.055,26),(0.056,-305),
 (0.057,-173),(0.058,-405),(0.059,-140),(0.061,-8),(0.062,-239),(0.063,-371),(0.064,-107),(0.066,26),(0.067,-272),
 (0.068,-173),(0.071,-8),(0.073,-173),(0.075,-305),(0.078,-107),(0.080,-206),(0.083,26),(0.085,-239),(0.088,-140),
 (0.090,-371),(0.092,-173),(0.095,-107),(0.097,-239),(0.100,-355),(0.102,-140),(0.105,-239),(0.107,26),
 (0.022,886),(0.041,1581),(0.049,952),(0.050,720),(0.051,638),(0.054,588),(0.062,1018),(0.063,952),(0.066,423),
 (0.068,1366),(0.071,720),(0.080,1350),(0.080,1763),(0.088,687),(0.090,720),(0.095,2375),(0.096,605),(0.098,1498),
 (0.100,1101),(0.101,505),(0.105,886),(0.107,505),(0.109,406),(0.112,456),(0.114,753),(0.117,1068),(0.119,423),
 (0.122,340),(0.127,2177),(0.128,1002),(0.131,621),(0.133,1283),(0.136,571),(0.139,-504),(0.140,786),(0.144,224),
 (0.141,-107),(0.146,-156),(0.163,-438),(0.168,-123),(0.170,-140),(0.180,-289),(0.185,-223),(0.190,588),(0.195,-289),
 (0.198,-487),(0.202,-405),(0.209,373),(0.210,-603),(0.214,-338),(0.215,-206),(0.221,-190),(0.221,-504),(0.224,26),
 (0.229,-107),(0.253,-57),(0.263,-405),(0.264,-504),(0.268,-239),(0.268,820),(0.281,919),(0.290,-272),(0.292,-305),
 (0.296,-107),(0.304,-107),(0.305,208),(0.309,-256),(0.311,-41),(0.314,-570),(0.321,-239),(0.324,-421),(0.328,406),
 (0.333,-289),(0.351,-801),(0.360,-388),(0.372,-537),(0.384,-537),(0.389,-405),(0.423,-504),(0.453,-619),(0.491,-537),
 (0.494,-619),(0.506,-90),
 (0.003,-60),(0.005,-250),(0.008,-320),(0.011,-200),(0.013,-60),(0.016,-260),(0.018,-120),(0.021,-300),(0.026,-200),
 (0.031,-360),(0.037,-240),(0.042,-330),(0.047,-380),(0.052,-260),(0.060,-300),(0.065,-200),(0.070,-330),(0.076,-250),
 (0.082,-300),(0.087,-200),(0.093,-280),(0.008,150),(0.013,100),(0.018,60)]

# ---------------- Panel J: TP residual vs DOY ----------------
J_2008 = [(1,104),(2,38),(3.3,137),(4.3,4),(5.9,104),(7.5,38),(9.2,71),(10.8,104),(12.5,154),(14.1,137),(15.7,104),
 (17.4,71),(19,170),(20.7,187),(22.3,203),(24,-29),(25.6,104),(27.2,38),(28.9,104),(30.5,71),(32.1,38),(33.8,21),
 (35.4,104),(37,71),(38.7,121),(40.3,104),(41.3,352),(42,303),(43.6,38),(45.2,4),(46.9,71),(48.5,104),(50.2,253),
 (51.8,269),(53.4,236),(55.1,203),(56.7,220),(58.4,187),(60,154),(61.6,170),(63.3,38),
 (79.7,452),(80.7,386),(81.3,286),(83,253),(84.6,236),(86.2,220),(87.9,187),(89.5,236),(91.1,220),(92.8,286),(94.4,369),
 (96.1,236),(97.7,220),(99.3,236),(101,220),(102.6,187),(104.3,236),(105.9,286),(107.5,236),(109.2,435),(110.2,402),
 (111.5,452),(114.1,104),(115.7,1628),(116.4,1015),(116.7,667),(118,1181),(118,402),(119.3,-145),(120.7,-62),
 (122.3,-95),(123.9,4),(125.6,104),(127.2,303),(128.9,38),(130.5,-162),(132.1,104),(133.8,71),(135.4,601),(137.1,2407),
 (138,286),(138.7,4),(140.3,-95),(142,236),(143.6,220),(145.2,170),(146.9,2175),(146.9,-79),(148.5,104),(150.2,220),
 (151.8,170),(153.4,137),(155.1,104),(156.7,71),(158.4,-228),(160,1529),(160,1430),(160.7,419),(161.6,-112),
 (162.6,-228),(163.3,386),(163.9,104),(164.9,866),(165.9,651),(166.6,386),(167.2,452),(168.2,104),(169.8,-29),
 (171.5,-95),(173.1,104),(174.8,4),(176.4,-129),(178,435),(179,1098),(179.7,849),(180.3,137),(181.3,551),(183,1396),
 (183.6,-162),(184.6,352),(186.2,104),(187.9,4),(189.5,-95),(190.2,1148),(192.1,518),(192.8,-228),(194.4,236),
 (196.1,-195),(197.7,104),(199.3,137),(201,-62),(202.6,352),(204.3,766),(205.9,783),(207.5,419),(208.5,866),(209.2,71),
 (210.8,-95),(212.5,-228),(214.1,535),(215.7,419),(217.4,551),(219,-228),(220.7,-394),(221.6,236),(222.3,-29),
 (223.9,-162),(225.6,71),(227.2,-195),(228.9,-95),(229.5,1297),(230.5,651),(231.5,137),(232.1,601),(233.8,104),
 (234.8,800),(235.4,-62),(237,-228),(238.7,-295),(240.3,-477),(241.3,-593),(242,-908),(242.6,-660),(243.6,170),
 (244.6,4),(245.2,-162),(246.9,-262),(248.5,-62),(250.2,-228),(251.8,-129),(253.4,71),(255.1,-162),(256.7,-295),
 (258.4,-162),(260,38),(261.6,-228),(263.3,-427),(264.9,154),(266.6,-129),(268.2,-228),(269.8,-295),(271.5,-361),
 (273.1,-129),(274.8,-228),(276.4,-162),(278,-262),(279.7,-95),(281.3,303),(283,236),(284.6,38),(286.2,-29),
 (287.9,1297),(288.5,1860),(289.5,833),(290.2,452),(291.1,303),(292.8,236),(294.4,203),(296.1,236),(297.7,170),
 (299.3,236),(301,104),(302.6,137),(304.3,203),(305.9,104),(307.5,38),(309.2,369),(310.8,419),(312.5,402),(314.1,352),
 (315.7,303),(317.4,236),(319,137),(320.7,38),(322.3,-29),(323.9,104),(325.6,-95),(327.2,4),(328.9,137),(330.5,-162),
 (332.1,71),(333.8,-62),(335.4,-228),(337,104),(338.7,170),(340.3,187),(342,104),(343.6,137),(345.2,71),(346.9,203),
 (348.5,38),(350.2,187),(351.8,170),(353.4,104),(355.1,137),(356.7,71),(358.4,154),(360,104),(361.6,137),(363.3,38),
 (364.9,104),(365.9,-162)]
J_2009 = [(1,-361),(2,-228),(3.3,-95),(4.3,-162),(5.9,-195),(7.5,-95),(9.2,-129),(10.8,-95),(12.5,-29),(14.1,4),
 (15.7,-62),(17.4,-95),(19,-129),(20.7,-62),(22.3,4),(24,-361),(25,-228),(25.6,-162),(27.2,-129),(28.9,-95),(30.5,-162),
 (32.1,-129),(33.8,-162),(35.4,-311),(37,-162),(38.7,-95),(40.3,-129),(41.3,187),(42,137),(43.6,-162),(45.2,-361),
 (45.9,-228),(46.9,-162),(48.5,-129),(50.2,104),(51.8,87),(53.4,71),(55.1,38),(56.7,21),(58.4,4),(60,38),(61.6,-29),
 (63.3,-129),
 (79.7,38),(80.7,303),(81.3,220),(83,104),(84.6,38),(86.2,-29),(87.9,38),(89.5,71),(91.1,54),(92.8,104),(94.4,4),
 (96.1,38),(97.7,4),(99.3,71),(101,38),(102.6,-29),(104.3,71),(105.9,-62),(107.5,170),(109.2,303),(110.2,236),
 (111.5,336),(114.1,-62),(115.7,1579),(116.4,883),(116.7,651),(118,1148),(118,369),(119.3,-228),(120.7,-295),
 (122.3,-195),(123.9,-361),(125.6,-162),(127.2,-195),(128.9,-62),(130.5,-129),(132.1,-162),(133.8,-95),(135.4,502),
 (136.4,800),(137.1,2391),(138.7,-195),(140.3,-262),(142,-29),(143.6,4),(145.2,-29),(146.9,2159),(146.9,601),
 (147.5,999),(148.5,-95),(150.2,-162),(151.8,-62),(153.4,-29),(155.1,-129),(156.7,-195),(158.4,-377),(160,1503),
 (160,1380),(160.7,352),(161.6,-295),(162.6,-427),(163.3,303),(163.9,-95),(164.9,849),(165.9,618),(166.6,319),
 (167.2,104),(168.2,-129),(169.8,-162),(171.5,-262),(173.1,-62),(174.8,-162),(176.4,-295),(178,236),(179,949),
 (179.7,1065),(180.3,137),(181.3,402),(182.3,502),(183,1370),(183.6,-228),(184.6,336),(186.2,-62),(187.9,-162),
 (189.5,-228),(190.2,1098),(191.1,700),(192.1,402),(192.8,-361),(194.4,104),(196.1,-328),(197.7,-62),(199.3,-162),
 (201,-195),(202.6,4),(203.6,502),(204.3,733),(205.9,-29),(206.9,435),(208.5,899),(209.2,-162),(210.8,-228),
 (212.5,-394),(214.1,469),(215.7,369),(217.4,469),(219,-328),(220.7,-494),(221.6,104),(222.3,-262),(223.9,-95),
 (225.6,-228),(227.2,-295),(228.9,-162),(229.5,1280),(230.5,601),(231.5,-95),(232.1,585),(233.8,-29),(234.8,816),
 (235.4,-195),(237,-295),(238.7,-427),(240.3,-361),(241.3,-527),(242,-808),(242.6,-593),(243.6,-627),(244.6,-361),
 (245.2,-494),(246.9,-228),(248.5,-427),(250.2,-295),(251.8,-494),(253.4,-95),(255.1,-328),(256.7,-361),(258.4,-228),
 (260,-29),(261.6,-394),(263.3,-560),(264.9,-195),(266.6,-295),(268.2,-394),(269.8,-461),(271.5,-328),(273.1,-427),
 (274.8,-295),(276.4,-361),(278,-394),(279.7,-494),(281.3,137),(283,-62),(284.6,-162),(286.2,-228),(287.9,1280),
 (288.5,1761),(289.5,717),(290.2,319),(291.1,220),(292.8,104),(294.4,4),(296.1,-62),(297.7,38),(299.3,-29),(301,-95),
 (302.6,4),(304.3,38),(305.9,-95),(307.5,-162),(309.2,170),(310.8,236),(312.5,286),(314.1,220),(315.7,137),(317.4,71),
 (319,-29),(320.7,-95),(322.3,-162),(323.9,-62),(325.6,-262),(327.2,-95),(328.9,-29),(330.5,-361),(332.1,-95),
 (333.8,-195),(335.4,-394),(337,-95),(338.7,4),(340.3,-29),(342,-95),(343.6,-62),(345.2,-129),(346.9,4),(348.5,-95),
 (350.2,-29),(351.8,4),(353.4,-62),(355.1,-29),(356.7,-95),(358.4,-29),(360,-62),(361.6,-95),(363.3,-295),(364.9,-162),
 (365.9,-328)]

# ---------------- Layout helpers ----------------
W, H = 2128, 2358


def to_date(days):
    return [pd.Timestamp(DATE_START) + pd.Timedelta(days=d) for d in days]


def fmt(v):
    return str(v)


# (letter, data08, data09, is_date, xtitle, ytitle, xrange, xticks, xticktext, yrange, yticks,
#  box px (l, t, r, b), legend first-marker px (x, y), letter px (x, y))
PANELS = [
    ("A", A_2008, A_2009, False, "Cum-Q", "NO3 Residual", [0, 20], CUMQ_A_TICKS, None, [-2000, 1000], NO3_Y_TICKS,
     (122, 78, 585, 504), (176, 426), (405, 128)),
    ("B", B_2008, B_2009, True, "", "NO3 Residual", None, DATE_TICKS, DATE_LABELS, [-2000, 1000], NO3_Y_TICKS,
     (736, 74, 1456, 500), (823, 428), (953, 131)),
    ("C", C_2008, C_2009, False, "NO3 concentration(<i>μ</i>g/l)", "NO3 Residual", [0, 2000], CONC_C_TICKS, None,
     [-2000, 1000], NO3_Y_TICKS, (1591, 72, 2057, 496), (1888, 422), (1656, 128)),
    ("D", D_2008, D_2009, False, "Discharge (mm/h)", "NO3 Residual", [0, 0.5], Q_D_TICKS, None, [-2000, 1000],
     NO3_Y_TICKS, (388, 623, 975, 1060), (419, 988), (865, 704)),
    ("E", E_2008, E_2009, False, "DOY", "NO3 Residual", [0, 400], DOY_TICKS, None, [-2000, 1000], NO3_Y_TICKS,
     (1191, 622, 1773, 1063), (1217, 971), (1571, 702)),
    ("F", F_2008, F_2009, False, "Cum-Q", "TP Residual", [0, 30], CUMQ_F_TICKS, None, [-1000, 3000], TP_Y_TICKS,
     (125, 1305, 593, 1717), (424, 1343), (279, 1364)),
    ("G", G_2008, G_2009, True, "", "TP Residual", None, DATE_TICKS, DATE_LABELS, [-1000, 2500], TP_G_Y_TICKS,
     (725, 1300, 1498, 1710), (1335, 1336), (920, 1361)),
    ("H", H_2008, H_2009, False, "TP concentration(<i>μ</i>g/l)", "TP Residual", [0, 4000], CONC_H_TICKS, None,
     [-1000, 3000], TP_Y_TICKS, (1640, 1312, 2094, 1731), (1925, 1545), (1785, 1375)),
    ("I", I_2008, I_2009, False, "Discharge (mm/h)", "TP Residual", [0, 0.6], Q_I_TICKS, None, [-1000, 3000],
     TP_Y_TICKS, (414, 1845, 1028, 2268), (857, 1884), (623, 1911)),
    ("J", J_2008, J_2009, False, "DOY", "TP Residual", [0, 400], DOY_TICKS, None, [-1000, 3000], TP_Y_TICKS,
     (1199, 1853, 1821, 2274), (1649, 1893), (1280, 1909)),
]

LEG_DX, LEG_DY = 41, 26   # offset of the first legend marker from the legend box corner

fig = go.Figure()
layout = dict(
    template="none",
    width=W, height=H, margin=dict(l=0, r=0, t=0, b=0, autoexpand=False),
    paper_bgcolor="white", plot_bgcolor="white",
    font=dict(family=FONT, size=30, color="#222222"),
    showlegend=True,
)
shapes = []
annotations = []

for i, (letter, d08, d09, is_date, xt, yt, xr, xticks, xtt, yr, yticks, box, lg, lp) in enumerate(PANELS):
    n = i + 1
    sfx = "" if n == 1 else str(n)
    xa, ya = "x" + sfx, "y" + sfx
    lgname = "legend" + sfx
    l, t, r, b = box
    for data, name, col in ((d08, "2008WY", BLUE), (d09, "2009WY", RED)):
        xs = [p[0] for p in data]
        ys = [p[1] for p in data]
        if is_date:
            xs = to_date(xs)
        fig.add_trace(go.Scatter(
            x=xs, y=ys, mode="markers", name=name, xaxis=xa, yaxis=ya, legend=lgname,
            legendgroup=letter + name,
            marker=dict(color=col, size=6.5, line=dict(width=0)), showlegend=True))
    # zero reference line across the data (full axis for date panels)
    if is_date:
        x0, x1 = DATE_TICKS[0], DATE_TICKS[-1]
    else:
        allx = [p[0] for p in d08] + [p[0] for p in d09]
        x0 = min(allx) if letter == "C" else min(0, min(allx))
        x1 = max(allx)
    shapes.append(dict(type="line", xref=xa, yref=ya, x0=x0, x1=x1, y0=0, y1=0,
                       line=dict(color="#000000", width=1.6), layer="above"))

    xaxis = dict(
        domain=[l / W, r / W], anchor=ya, showgrid=False, zeroline=False, automargin=False,
        showline=True, linecolor=AXC, linewidth=1.5, mirror="ticks",
        ticks="inside", ticklen=7, tickwidth=1.3, tickcolor=AXC,
        tickfont=dict(family=FONT, size=30, color="#222222"),
        title=dict(text=xt, font=dict(family=FONT, size=35, color="#222222"),
                   standoff=0 if letter in ("I", "J") else 6),
    )
    if is_date:
        xaxis.update(type="date", range=[DATE_TICKS[0], DATE_TICKS[-1]], tickmode="array",
                     tickvals=DATE_TICKS, ticktext=DATE_LABELS, tickangle=-35)
    else:
        xaxis.update(range=xr, tickmode="array", tickvals=xticks, ticktext=[fmt(v) for v in xticks])
    yaxis = dict(
        domain=[1 - b / H, 1 - t / H], anchor=xa, range=yr, showgrid=False, zeroline=False, automargin=False,
        showline=True, linecolor=AXC, linewidth=1.5, mirror="ticks",
        ticks="inside", ticklen=7, tickwidth=1.3, tickcolor=AXC,
        tickmode="array", tickvals=yticks, ticktext=[fmt(v) for v in yticks],
        tickfont=dict(family=FONT, size=30, color="#222222"),
        title=dict(text=yt, font=dict(family=FONT, size=36, color="#222222"), standoff=14),
    )
    layout["xaxis" + sfx] = xaxis
    layout["yaxis" + sfx] = yaxis
    layout[lgname] = dict(
        x=(lg[0] - LEG_DX) / W, y=1 - (lg[1] - LEG_DY) / H, xanchor="left", yanchor="top",
        bgcolor="rgba(0,0,0,0)", borderwidth=0,
        font=dict(family=FONT, size=28, color="#111111"),
        itemwidth=74, tracegroupgap=5,
    )
    annotations.append(dict(
        text="<b>%s</b>" % letter, x=lp[0] / W, y=1 - lp[1] / H, xref="paper", yref="paper",
        showarrow=False, xanchor="center", yanchor="middle",
        font=dict(family=FONT, size=36, color="#000000")))

annotations.append(dict(
    text="<b>Different presentation of total nitrate modelling results (2008WY & 2009WY)</b>",
    x=1067 / W, y=1 - 29 / H, xref="paper", yref="paper", showarrow=False,
    xanchor="center", yanchor="middle", font=dict(family=FONT, size=48, color="#000000")))
annotations.append(dict(
    text="<b>Different presentation of total phosphorous modelling results (2008WY & 2009WY)</b>",
    x=1100 / W, y=1 - 1248 / H, xref="paper", yref="paper", showarrow=False,
    xanchor="center", yanchor="middle", font=dict(family=FONT, size=48, color="#000000")))

layout["shapes"] = shapes
layout["annotations"] = annotations
fig.update_layout(**layout)
fig.write_html(
    "out.html",
    config={"displayModeBar": False},
    post_script="document.body.style.margin='0px';document.body.style.padding='0px';"
                "document.body.style.overflow='hidden';",
)
